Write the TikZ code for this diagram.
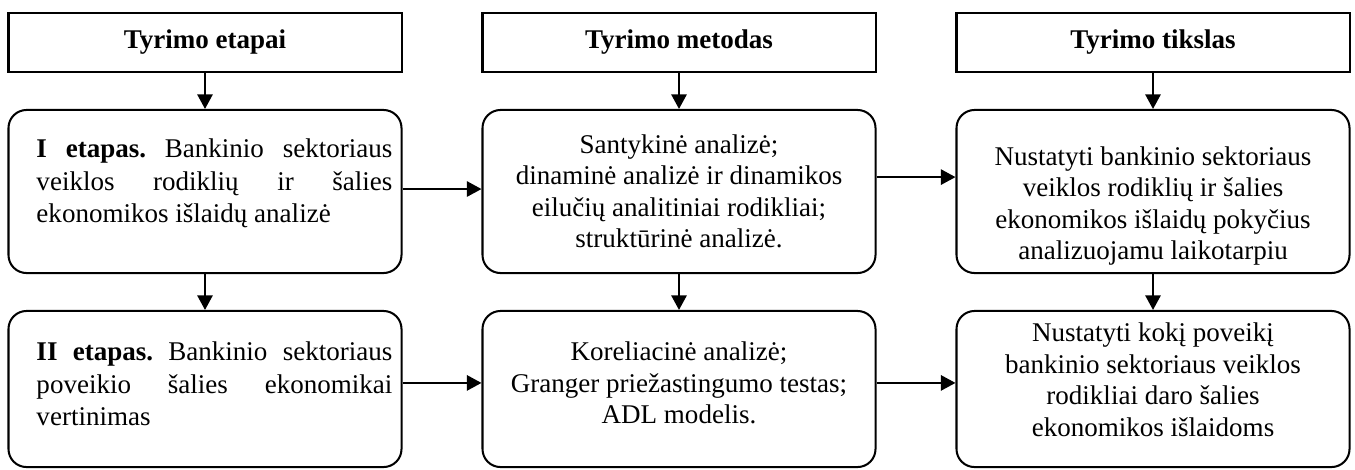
\documentclass[tikz,border=0pt]{standalone}
\usepackage{fontspec}
\setmainfont{Liberation Serif}
\usetikzlibrary{arrows.meta}
\hyphenpenalty=10000
\exhyphenpenalty=10000
\frenchspacing
\begin{document}
\begin{tikzpicture}[x=0.444pt,y=-0.444pt,line width=0.9pt,font=\fontsize{12}{14}\selectfont,
		>={Triangle[length=6.5pt,width=6.8pt]},
		head/.style={draw,minimum width=174.5pt,minimum height=26.2pt,inner sep=0pt,font=\fontsize{12}{14}\selectfont\bfseries},
		stage/.style={draw,rounded corners=8pt,minimum width=174.5pt,inner sep=0pt},
		txtj/.style={anchor=north west,text width=158pt,align=justify,inner sep=0pt,font=\fontsize{12}{14.4}\selectfont},
		txtc/.style={anchor=north,align=center,inner sep=0pt}]
	\useasboundingbox (0,0) rectangle (1355,469);
	% antrastes
	\node[head] (h1) at (205,42.5) {Tyrimo etapai};
	\node[head] (h2) at (679,42.5) {Tyrimo metodas};
	\node[head] (h3) at (1153,42.5) {Tyrimo tikslas};
	% langeliai
	\node[stage,minimum height=72.4pt] (e1) at (205,191.5) {};
	\node[stage,minimum height=72.4pt] (m1) at (679,191.5) {};
	\node[stage,minimum height=72.4pt] (g1) at (1153,191.5) {};
	\node[stage,minimum height=69.3pt] (e2) at (205,389) {};
	\node[stage,minimum height=69.3pt] (m2) at (679,389) {};
	\node[stage,minimum height=69.3pt] (g2) at (1153,389) {};
	% tekstai
	\node[txtj] (e1t) at ([shift={(28,29)}]e1.north west) {\textbf{I etapas.} Bankinio sektoriaus\linebreak veiklos rodiklių ir šalies\linebreak ekonomikos išlaidų analizė};
	\node[txtc] (m1t) at ([shift={(0,24.5)}]m1.north) {Santykinė analizė;\\ dinaminė analizė ir dinamikos\\ eilučių analitiniai rodikliai;\\ struktūrinė analizė.};
	\node[txtc] (g1t) at ([shift={(0,36.5)}]g1.north) {Nustatyti bankinio sektoriaus\\ veiklos rodiklių ir šalies\\ ekonomikos išlaidų pokyčius\\ analizuojamu laikotarpiu};
	\node[txtj] (e2t) at ([shift={(28,31)}]e2.north west) {\textbf{II etapas.} Bankinio sektoriaus\linebreak poveikio šalies ekonomikai\linebreak vertinimas};
	\node[txtc] (m2t) at ([shift={(0,31)}]m2.north) {Koreliacinė analizė;\\ Granger priežastingumo testas;\\ ADL modelis.};
	\node[txtc] (g2t) at ([shift={(0,12)}]g2.north) {Nustatyti kokį poveikį\\ bankinio sektoriaus veiklos\\ rodikliai daro šalies\\ ekonomikos išlaidoms};
	% rodykles
	\draw[->] (h1) -- (e1);
	\draw[->] (h2) -- (m1);
	\draw[->] (h3) -- (g1);
	\draw[->] (e1) -- (e2);
	\draw[->] (m1) -- (m2);
	\draw[->] (g1) -- (g2);
	\draw[->] ([yshift=1.1pt]e1.east) -- ([yshift=1.1pt]m1.west);
	\draw[->] ([yshift=6.4pt]m1.east) -- ([yshift=6.4pt]g1.west);
	\draw[->] ([yshift=2.7pt]e2.east) -- ([yshift=2.7pt]m2.west);
	\draw[->] ([yshift=2.7pt]m2.east) -- ([yshift=2.7pt]g2.west);
\end{tikzpicture}
\end{document}
